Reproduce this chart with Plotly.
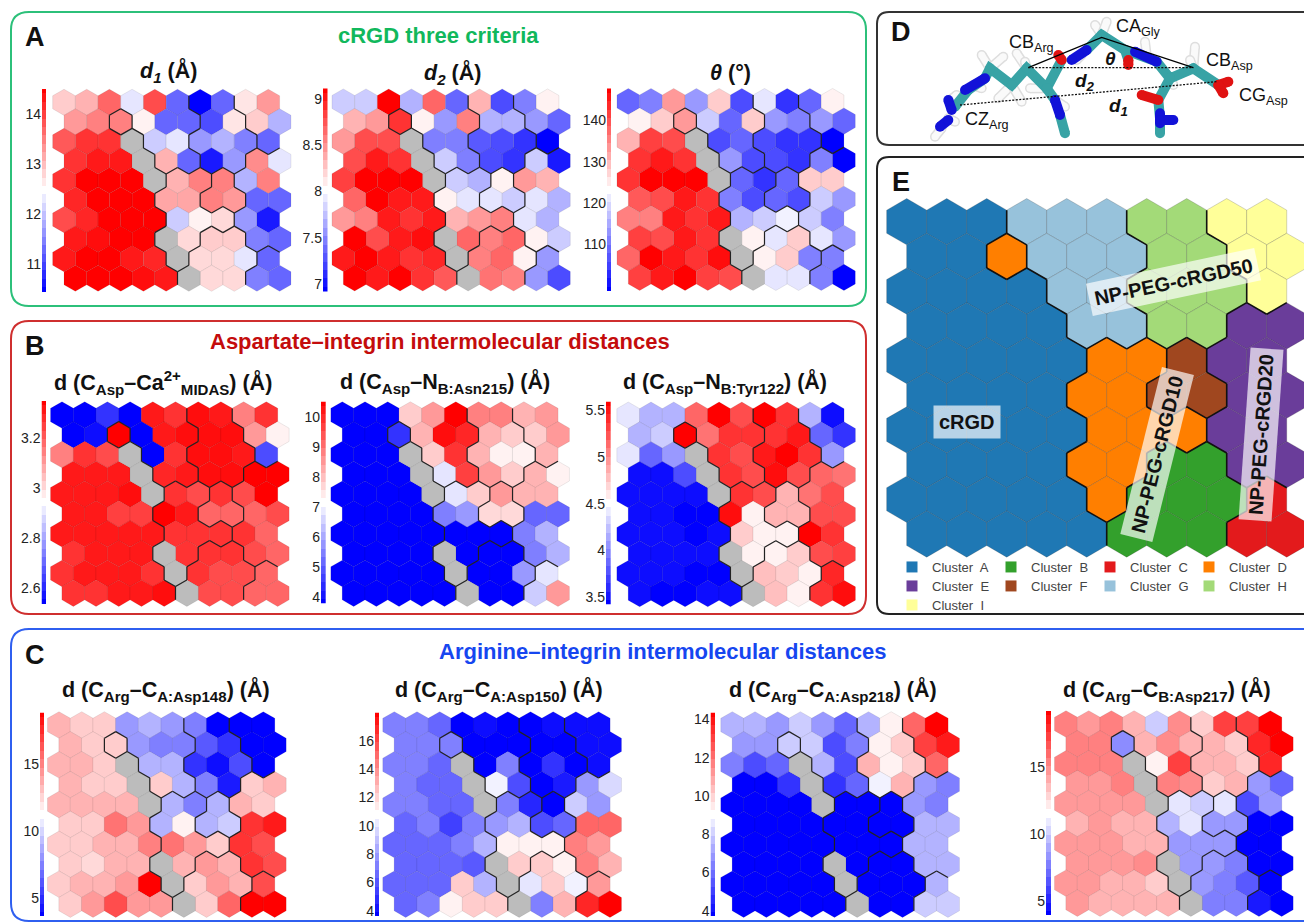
import numpy as np
import plotly.graph_objects as go

W, H = 1304, 922
G = None
FONT = "Liberation Sans"

# ---- cell values, on the colour scale -10 (blue) .. 10 (red); G = grey cell
D1 = [[2,3,6,-1,7,-6,-10,-6,1,4],[4,5,5,.5,-6,-6,-7,1,2,-3],[6.5,8,8,G,-2,-1,-4,-3,-5,-6],[8,9,9,G,3,-6,-9,-4,4.5,-1],
      [8,10,10,10,G,3,5,5,-3,5],[8.5,10,10,10,3.5,3.5,5,4,-6,-6],[7,8.5,10,10,10,-2,.5,1.5,-4,-9],[9,9.5,10,10,G,1.5,2,2,-5,-6],
      [9,10,10,9,8.5,G,1.5,1.5,-1,-6],[10,10,10,9.5,9,G,1.5,1.5,-5,-6]]
D2 = [[-2,-2,10,-3,6,-6,3,-7,-5,.5],[3,4,8,.5,-4,5,-3,-3,-4,-6],[4,7,7,G,-5,-5,-6.5,-7,-8,-10],[7,9,8,G,-2,-5,-7,-8,-2,-9],
      [7.5,10,10,10,G,-2,-3,.5,4,3],[6,10,9,9,.5,-1,-1,-2,-1,-3],[4,5,9,8,9,3,4,5,-1,-3],[10,7,9,9.5,G,6,5,6,.5,-2],
      [9,10,9,8,8.5,G,5,6,.5,-4],[10,9,10,8,6.5,G,5.5,5,-4,-7]]
THETA = [[-6,-5,4,-4,2,-7,-1,-8,-6,.5],[.5,2,4,-2,-6,2,-4,-5,-4,-6],[3,7.5,7,G,-7,-6,-7,-8,-8,-10],[8,9,8,G,-4,-7,-7,-8,-5,-10],
         [8,10,10,10,G,-6,-8,-6,2,2],[6.5,7,9,8,-5,-7,-6,-7,-2,-4],[5,5,9,8,9,-3,-2,-.5,-2,-5],[7.5,7,9,8,G,.5,-1,2,-1,-4],
         [6,10,9,8,9.5,G,.5,2,-5,-5],[7.5,9,10,7.5,7,G,-1,-1,-5,-10]]
CA_MIDAS = [[-10,-10,-8,-10,9,8,9.5,9,5,8],[-10,-9.5,10,-10,9,9.5,9.5,9.5,4,.5],[5,8,7,G,-10,8,9.5,9.5,9,-7],[9,9,9,G,8.5,9,9.5,9.5,10,10],
            [9,9,9,9.5,G,8,7,8,7,10],[9,9,7.5,7.5,10,9,6,6,6,7],[9,9,9,9,9,8,8,8,8,6],[8,9,9,9,G,8,8,8,7,6],
            [8,9,9,9,8,G,8,7,7,6],[8,8,9,9,9.5,G,7,7,6,6]]
ASN215 = [[-10,-10,-10,2,4,10,5,5,3,4],[-10,-10,-8,3,9.5,8.5,3,2,2,4],[-10,-10,-10,G,2,8,3,.5,.5,3],[-10,-10,-10,G,-1,7.5,4,2,3,.5],
          [-10,-10,-10,-10,G,-1,2,4,3,3],[-10,-10,-10,-10,-5,-4,1.5,1.5,-6,-6],[-10,-10,-10,-10,-10,-10,-10,-10,-5,-3],[-10,-10,-10,-10,G,-10,-10,-10,-5,-3],
          [-10,-10,-10,-10,-10,G,-10,-10,-4,-1],[-10,-10,-10,-10,-10,G,-10,-10,-2,4]]
TYR122 = [[-1,-3,-3,6,10,7,10,8,-3,-9.5],[-3,-2,10,5.5,8,8,8,9,-6,-8],[-1,-6,-4,G,8,7,9,10,8,-4],[-9.5,-9.5,-7,G,8,7,9.5,7,6,5.5],
          [-9.5,-9.5,-9.5,-9.5,G,8,7,3,5.5,7],[-9.5,-9.5,-10,-10,9.5,.5,3,3,7,7],[-9.5,-9.5,-9.5,-10,-9.5,2,.5,.5,10,8],[-9.5,-9.5,-9.5,-9.5,G,.5,.5,2,7,7.5],
          [-9.5,-9.5,-9.5,-10,-10,G,2.5,2,.5,8.5],[-9.5,-10,-10,-9.5,-9.5,G,2.5,.5,8,9.5]]
ASP148 = [[3,2,2,-4,-3,-4,-5,-10,-10,-10],[3,2,2,-4,-5,-5,-6.5,-8,-10,-10],[3,3,2,G,-3,-3,-8,-9.5,-7,-10],[3,2,2,G,2,-3,-5,-9,2,3],
          [3,3,3,3,G,-3,-5,-3,3,2],[2,2,5.5,4,-3,.5,-3,-2,8,9],[2,2,3,3,5,5.5,4,2,8,7],[2,1.5,3,3,G,3,4,3,8,7],
          [2,3,3,4,10,G,2,4,3,7],[2,4,7,4,4,G,2,6,10,10]]
ASP150 = [[-5,-5,-6,-10,-9.5,-10,-10,-9.5,-9.5,-9.5],[-5,-5,-5,-10,-10,-10,-10,-10,-9.5,-9.5],[-5,-5,-6,G,-10,-5,-10,-8,-10,-9.5],[-5,-6,-6,G,-.5,-7,-10,-9,-4,-1.5],
          [-5,-5,-6,-6,G,-5,-8.5,-10,-2,-4],[-6,-5,-7.5,-5,-4,-3,-7,-6,6,6],[-6,-6,-6,-5,-3,.5,.5,.5,5,4],[-6,-6,-6,-6.5,G,2,2,.5,5,3],
          [-6,-6,-6,2,-3,G,-1,2,-.5,4],[-6,-5,.5,2,2,G,-5,3,8.5,10]]
ASP218 = [[-3,-3,-4,-2,-4,-6,-3,.5,6,10],[-4,-4,-2,-2,-7,-5,.5,2,7.5,9],[-5,-7,-6,G,-3,-7,3,.5,2,6],[-10,-10,-8,G,-8,-6,-.5,3,-4,-5],
          [-10,-10,-10,-10,G,-10,-10,-10,-4,-5],[-10,-10,-10,-10,-10,-10,-10,-10,-3,-3],[-10,-10,-10,-10,-10,-10,-10,-10,-3,-3],[-10,-10,-10,-10,G,-10,-10,-10,-3,-3],
          [-10,-10,-10,-10,-10,G,-10,-10,-10,-3],[-10,-10,-10,-10,-10,G,-10,-10,-2,-2]]
ASP217 = [[5,4,5,3,-2,4.5,2,7.5,7.5,10],[5,5,-4.5,3,4.5,3,3,2,8.5,10],[5,5,5,G,.5,7.5,3,3,2,8.5],[4,4,5,G,5,4.5,2,3,-4,-6],
          [4,4,4,4,G,-1,-2,-1,-7,-4],[3,4,3,3,-3,-1,-4,-4,-10,-10],[4,4,4,3,3,-4,-4,-4,-10,-10],[4,4,4,4.5,G,-4,-4,-5,-10,-10],
          [4,4,3,3,2,G,-4,-5,-6.5,-10],[4,3,3,3,3,G,-5,-5,-9,-10]]
CLUSTERS = ["AAAGGGHHII", "AADGGGHHII", "AAAAGGHHHI", "AAAAGGHHEE", "AAAAADDFEE",
            "AAAADDFFEE", "AAAAADDDEE", "AAAADDBBEE", "AAAAADBBBC", "AAAAABBBCC"]
CLUSTER_NAMES = list("ABCDEFGHI")
CLUSTER_COLORS = ["#1f78b4", "#33a02c", "#e31a1c", "#ff7f00", "#6a3d9a", "#a0471f", "#97c2db", "#a3da78", "#ffff99"]

TITLE_D1 = "<b><i>d<sub>1</sub></i> (Å)</b>"
TITLE_D2 = "<b><i>d<sub>2</sub></i> (Å)</b>"
TITLE_TH = "<b><i>θ</i> (°)</b>"
TITLE_B1 = "<b>d (C<sub>Asp</sub>–Ca<sup>2+</sup><sub>MIDAS</sub>) (Å)</b>"
TITLE_B2 = "<b>d (C<sub>Asp</sub>–N<sub>B:Asn215</sub>) (Å)</b>"
TITLE_B3 = "<b>d (C<sub>Asp</sub>–N<sub>B:Tyr122</sub>) (Å)</b>"
TITLE_C1 = "<b>d (C<sub>Arg</sub>–C<sub>A:Asp148</sub>) (Å)</b>"
TITLE_C2 = "<b>d (C<sub>Arg</sub>–C<sub>A:Asp150</sub>) (Å)</b>"
TITLE_C3 = "<b>d (C<sub>Arg</sub>–C<sub>A:Asp218</sub>) (Å)</b>"
TITLE_C4 = "<b>d (C<sub>Arg</sub>–C<sub>B:Asp217</sub>) (Å)</b>"

# name, cells, title, title x/y, first-cell x/y, row pitch, bar x0/x1/y0/y1, colour range, tick values
MAPS = [
    (D1, TITLE_D1, 168, 71, 64, 102.3, 19.55, 42, 46, 89, 292, 10.44, 14.5, [11, 12, 13, 14]),
    (D2, TITLE_D2, 452, 73, 343.3, 102, 19.55, 323, 327.5, 88.5, 291.5, 6.92, 9.11, [7, 7.5, 8, 8.5, 9]),
    (THETA, TITLE_TH, 730, 73, 628.3, 101.5, 19.55, 607, 611.3, 88.5, 291, 98.7, 147.7, [110, 120, 130, 140]),
    (CA_MIDAS, TITLE_B1, 163, 382, 62, 415, 19.8, 41.5, 46, 401, 604, 2.537, 3.349, [2.6, 2.8, 3, 3.2]),
    (ASN215, TITLE_B2, 445, 382, 342.3, 415, 19.8, 321, 325.7, 401.7, 603.3, 3.8, 10.52, [4, 5, 6, 7, 8, 9, 10]),
    (TYR122, TITLE_B3, 725, 382, 628.3, 415.3, 19.8, 606, 610.7, 401.7, 604.3, 3.425, 5.589, [3.5, 4, 4.5, 5, 5.5]),
    (ASP148, TITLE_C1, 166, 690, 59, 725, 19.9, 40, 44.3, 712.7, 916, 3.68, 18.82, [5, 10, 15]),
    (ASP150, TITLE_C2, 499, 690, 394.3, 725, 19.9, 375, 379, 712.7, 916, 3.63, 17.98, [4, 6, 8, 10, 12, 14, 16]),
    (ASP218, TITLE_C3, 833, 690, 732.3, 725, 19.9, 710.5, 715, 712.7, 916, 3.72, 14.35, [4, 6, 8, 10, 12, 14]),
    (ASP217, TITLE_C4, 1167, 690, 1066, 724, 19.9, 1046, 1051, 711, 915, 3.93, 19.22, [5, 10, 15]),
]

# panel D: stick drawing of the peptide; points are measured at 3x, from (880, 0)
TEAL, NBLUE, ORED, HWHITE = "#38a3a5", "#1212d8", "#e01212", "#fafafa"
MOL_WHITE = [[(185,385),(165,410)], [(205,355),(225,365)], [(210,300),(230,285)], [(280,255),(305,265)],
             [(330,205),(305,165)], [(330,205),(370,170)], [(440,205),(410,160)], [(440,205),(435,185)],
             [(395,255),(355,295)], [(395,255),(425,305)], [(500,265),(450,265)], [(525,300),(555,320)],
             [(590,180),(605,165)], [(665,105),(645,75)], [(665,105),(680,65)], [(800,165),(795,125)],
             [(940,205),(945,140)], [(940,205),(930,180)], [(870,235),(880,255)]]
MOL_TEAL = [[(225,320),(265,270),(315,235),(330,205),(395,255),(440,205),(500,265),(545,180)],
            [(620,150),(665,105),(735,150),(830,185),(870,235),(940,205),(1015,255)],
            [(870,235),(835,300),(840,355)], [(735,150),(745,180)], [(500,265),(525,300)],
            [(540,345),(555,400)], [(840,355),(840,400)]]
MOL_BLUE = [[(205,300),(215,330)], [(180,380),(205,360)], [(255,270),(315,235)], [(525,300),(540,345)], [(575,180),(620,150)],
            [(765,155),(830,185)], [(840,340),(840,370)], [(840,360),(880,360)]]
MOL_RED = [[(745,180),(745,195)], [(835,300),(785,285)], [(1015,255),(1045,245)], [(1015,255),(1030,280)], [(545,180),(535,165)]]
LINE_SOLID = [(445,203),(665,112),(940,203)]
LINE_D2 = [(445,203),(940,203)]
LINE_D1 = [(240,315),(1010,245)]

def xy(pts):
    return [880 + p[0] / 3 for p in pts], [p[1] / 3 for p in pts]

SCALE = [[0, "#0000ff"], [0.5, "#ffffff"], [1, "#ff0000"]]
BAR_STEPS = 25
fig = go.Figure()
layout = dict(
    width=W, height=H, margin=dict(l=0, r=0, t=0, b=0, autoexpand=False), paper_bgcolor="white", plot_bgcolor="rgba(0,0,0,0)",
    font=dict(family=FONT, color="#111"), hovermode=False, showlegend=True,
    xaxis=dict(domain=[0, 1], range=[0, W], visible=False, fixedrange=True),
    yaxis=dict(domain=[0, 1], range=[H, 0], visible=False, fixedrange=True),
)
annotations, shapes = [], []

def text(x, y, s, size, color="#111", angle=0, bg=None, pad=0):
    annotations.append(dict(x=x, y=y, xref="x", yref="y", text=s, showarrow=False, textangle=angle,
                            font=dict(size=size, color=color, family=FONT), bgcolor=bg, borderpad=pad,
                            xanchor="center", yanchor="middle"))

def frame(x0, y0, x1, y1, color, r=18, width=2):
    p = (f"M {x0+r},{y0} L {x1-r},{y0} Q {x1},{y0} {x1},{y0+r} L {x1},{y1-r} Q {x1},{y1} {x1-r},{y1} "
         f"L {x0+r},{y1} Q {x0},{y1} {x0},{y1-r} L {x0},{y0+r} Q {x0},{y0} {x0+r},{y0} Z")
    shapes.append(dict(type="path", path=p, xref="x", yref="y", line=dict(color=color, width=width), layer="below"))

def cell_centres(rows=10, cols=10):
    return [(c + 0.5 * (r % 2), r) for r in range(rows) for c in range(cols)]

def boundary(grid, skip=()):
    """Edges of the hex grid that separate two different clusters."""
    xs, ys = [], []
    def add(a, b):
        xs.extend([a[0], b[0], None]); ys.extend([a[1], b[1], None])
    for r in range(10):
        for c in range(10):
            cx, cy = c + 0.5 * (r % 2), r
            k = grid[r][c]
            if c < 9 and grid[r][c + 1] != k and (r, c) not in skip:
                add((cx + .5, cy - 1 / 3), (cx + .5, cy + 1 / 3))
            if r < 9:
                left = c if r % 2 else c - 1
                right = c + 1 if r % 2 else c
                if left >= 0 and grid[r + 1][left] != k:
                    add((cx, cy + 2 / 3), (cx - .5, cy + 1 / 3))
                if right <= 9 and grid[r + 1][right] != k:
                    add((cx, cy + 2 / 3), (cx + .5, cy + 1 / 3))
    return xs, ys

axis_no = 1
def new_axes(xdom, ydom, xr, yr, **yextra):
    global axis_no
    axis_no += 1
    n = axis_no
    layout[f"xaxis{n}"] = dict(domain=[max(0, xdom[0] / W), min(1, xdom[1] / W)], range=xr, visible=False, fixedrange=True,
                               anchor=f"y{n}")
    ya = dict(domain=[max(0, 1 - ydom[1] / H), min(1, 1 - ydom[0] / H)], range=yr, visible=False, fixedrange=True, anchor=f"x{n}")
    ya.update(yextra)
    layout[f"yaxis{n}"] = ya
    return f"x{n}", f"y{n}"

PX = 22.7
HEX_EDGE = "rgba(0,0,0,0.1)"
for cells, title, tx, ty, x0, y0, py, bx0, bx1, by0, by1, vmin, vmax, ticks in MAPS:
    xa, ya = new_axes((x0 - PX, x0 + 10.2 * PX), (y0 - 0.6 * py, y0 + 9.6 * py), [-1, 10.2], [9.6, -0.6])
    pts = cell_centres()
    flat = [cells[r][c] for r in range(10) for c in range(10)]
    vals = [None if v is None else vmin + (v + 10) / 20 * (vmax - vmin) for v in flat]
    fig.add_trace(go.Scatter(
        x=[p[0] for p, v in zip(pts, vals) if v is not None], y=[p[1] for p, v in zip(pts, vals) if v is not None],
        xaxis=xa, yaxis=ya, mode="markers", showlegend=False, cliponaxis=False,
        marker=dict(symbol="hexagon", size=py * 4 / 3 + .1, color=[v for v in vals if v is not None], cmin=vmin, cmax=vmax,
                    colorscale=SCALE, showscale=False, line=dict(width=.8, color=HEX_EDGE))))
    fig.add_trace(go.Scatter(
        x=[p[0] for p, v in zip(pts, vals) if v is None], y=[p[1] for p, v in zip(pts, vals) if v is None],
        xaxis=xa, yaxis=ya, mode="markers", showlegend=False, cliponaxis=False,
        marker=dict(symbol="hexagon", size=py * 4 / 3 + .1, color="#bcbcbc", line=dict(width=.8, color=HEX_EDGE))))
    lx, ly = boundary(CLUSTERS, skip={(0, 2)})
    fig.add_trace(go.Scatter(x=lx, y=ly, xaxis=xa, yaxis=ya, mode="lines", showlegend=False, cliponaxis=False,
                             line=dict(color="#222", width=1.2)))
    # colour bar with ticks on the left
    xb, yb = new_axes((bx0, bx1), (by0, by1), [-.5, .5], [vmin, vmax])
    layout[yb.replace("y", "yaxis")].update(visible=True, showgrid=False, zeroline=False, showline=False, ticks="",
                                            tickmode="array", tickvals=ticks, ticktext=[str(t) for t in ticks],
                                            tickfont=dict(size=14, color="#222", family=FONT), side="left")
    lev = np.linspace(vmin, vmax, BAR_STEPS)
    fig.add_trace(go.Heatmap(z=[[v] for v in lev], x=[0], y=lev, xaxis=xb, yaxis=yb, zmin=vmin, zmax=vmax,
                             colorscale=SCALE, showscale=False, hoverinfo="skip"))
    text(tx, ty, title, 21.5)

# ---- panel E
EP, EY0, EX0, ERP = 40, 221.7, 906.7, 34.7
xa, ya = new_axes((EX0 - .6 * EP, EX0 + 9.9 * EP), (EY0 - .7 * ERP, EY0 + 9.7 * ERP), [-.6, 9.9], [9.7, -.7])
for name, col in zip(CLUSTER_NAMES, CLUSTER_COLORS):
    xs = [c + .5 * (r % 2) for r in range(10) for c in range(10) if CLUSTERS[r][c] == name]
    ys = [r for r in range(10) for c in range(10) if CLUSTERS[r][c] == name]
    fig.add_trace(go.Scatter(x=xs, y=ys, xaxis=xa, yaxis=ya, mode="markers", showlegend=False, cliponaxis=False,
                             marker=dict(symbol="hexagon", size=ERP * 4 / 3, color=col,
                                         line=dict(width=.8, color="rgba(40,40,40,0.25)"))))
lx, ly = boundary(CLUSTERS)
fig.add_trace(go.Scatter(x=lx, y=ly, xaxis=xa, yaxis=ya, mode="lines", showlegend=False, cliponaxis=False,
                         line=dict(color="#111", width=1.6)))
# one legend per row, four entries a row
LEGEND_IDS = ["legend"] * 4 + ["legend2"] * 4 + ["legend3"]
for name, col, lid in zip(CLUSTER_NAMES, CLUSTER_COLORS, LEGEND_IDS):
    fig.add_trace(go.Scatter(x=[None], y=[None], xaxis=xa, yaxis=ya, mode="markers", name=f"Cluster  {name}", legend=lid,
                             marker=dict(symbol="square", size=11, color=col, line=dict(width=0))))
for lid, top in zip(["legend", "legend2", "legend3"], [552, 571, 590]):
    layout[lid] = dict(orientation="h", x=892 / W, y=1 - top / H, xanchor="left", yanchor="top", entrywidth=54, entrywidthmode="pixels",
                       font=dict(size=13, color="#444", family=FONT), itemwidth=30, bgcolor="rgba(0,0,0,0)",
                       tracegroupgap=0, itemclick=False, itemdoubleclick=False)

# ---- panel D molecule
for seg in MOL_WHITE:
    x, y = xy(seg)
    fig.add_trace(go.Scatter(x=x, y=y, mode="lines+markers", showlegend=False, line=dict(color="#dedede", width=10), marker=dict(size=10, color="#dedede")))
    fig.add_trace(go.Scatter(x=x, y=y, mode="lines+markers", showlegend=False, line=dict(color=HWHITE, width=7), marker=dict(size=7, color=HWHITE)))
for seg in MOL_TEAL:
    x, y = xy(seg)
    fig.add_trace(go.Scatter(x=x, y=y, mode="lines+markers", showlegend=False, line=dict(color=TEAL, width=10), marker=dict(size=10, color=TEAL)))
for seg, col in [(s, NBLUE) for s in MOL_BLUE] + [(s, ORED) for s in MOL_RED]:
    x, y = xy(seg)
    fig.add_trace(go.Scatter(x=x, y=y, mode="lines+markers", showlegend=False, line=dict(color=col, width=10), marker=dict(size=10, color=col)))
x, y = xy(LINE_SOLID)
fig.add_trace(go.Scatter(x=x, y=y, mode="lines", showlegend=False, line=dict(color="black", width=1.3)))
for seg in (LINE_D1, LINE_D2):
    x, y = xy(seg)
    fig.add_trace(go.Scatter(x=x, y=y, mode="lines", showlegend=False, line=dict(color="#111", width=1.3, dash="2px,1.5px")))
text(1031.7, 43, "CB<sub>Arg</sub>", 18)
text(1138, 27, "CA<sub>Gly</sub>", 18)
text(1229, 61, "CB<sub>Asp</sub>", 18)
text(1263, 96, "CG<sub>Asp</sub>", 18)
text(987, 120, "CZ<sub>Arg</sub>", 18)
text(1085, 82, "<b><i>d<sub>2</sub></i></b>", 19)
text(1118, 107, "<b><i>d<sub>1</sub></i></b>", 19)
text(1110, 58, "<b><i>θ</i></b>", 19)

# ---- frames and headings
frame(11, 12, 866, 306, "#2cc07a")
frame(11, 321, 866, 614, "#cf2f2f")
frame(11, 629, 1340, 921, "#2f5ff0")
frame(877, 12, 1340, 145, "#333", r=12)
frame(877, 157, 1340, 614, "#222", r=12)
text(438, 35, "<b>cRGD three criteria</b>", 22, "#11b85c")
text(440, 341, "<b>Aspartate–integrin intermolecular distances</b>", 22, "#c40c0c")
text(662, 651, "<b>Arginine–integrin intermolecular distances</b>", 22, "#1646f0")
for lab, x, y in [("A", 35, 37), ("B", 35, 346), ("C", 35, 655), ("D", 901, 32), ("E", 901, 182)]:
    text(x, y, f"<b>{lab}</b>", 27)
BG = "rgba(255,255,255,0.68)"
text(967, 421.5, "<b>cRGD</b>", 20, "#111", 0, BG, 5)
text(1173, 282, "<b>NP-PEG-cRGD50</b>", 20, "#111", -12, BG, 5)
text(1157, 455, "<b>NP-PEG-cRGD10</b>", 20, "#111", -76, BG, 5)
text(1261, 435, "<b>NP-PEG-cRGD20</b>", 20, "#111", -86, BG, 5)

layout["annotations"] = annotations
layout["shapes"] = shapes
fig.update_layout(**layout)
fig.write_html("out.html", config=dict(displayModeBar=False), post_script="document.body.style.margin='0';document.body.style.overflow='hidden';")
